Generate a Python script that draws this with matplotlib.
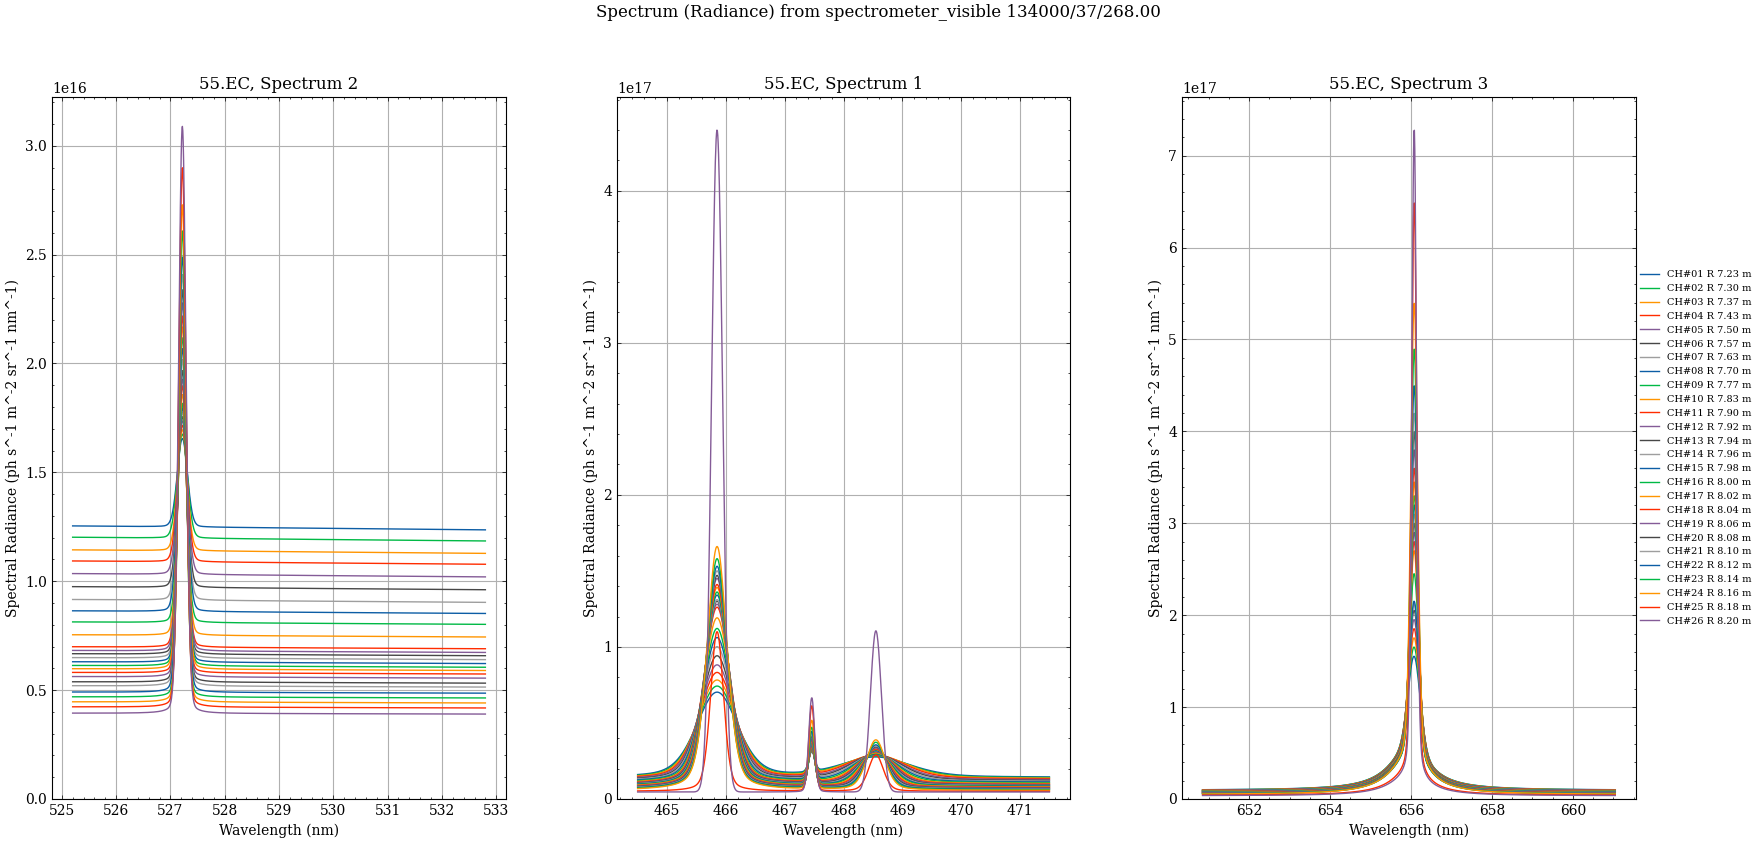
import numpy as np
import matplotlib.pyplot as plt

plt.rcParams.update({
    'font.family': 'serif',
    'font.serif': ['DejaVu Serif'],
    'font.size': 10,
    'axes.linewidth': 0.8,
    'axes.prop_cycle': plt.cycler(color=['#0C5DA5', '#00B945', '#FF9500', '#FF2C00',
                                         '#845B97', '#474747', '#9e9e9e']),
    'xtick.direction': 'in', 'ytick.direction': 'in',
    'xtick.top': True, 'ytick.right': True,
    'xtick.minor.visible': True, 'ytick.minor.visible': True,
    'xtick.major.size': 3, 'ytick.major.size': 3,
    'xtick.minor.size': 1.5, 'ytick.minor.size': 1.5,
    'xtick.major.width': 0.5, 'ytick.major.width': 0.5,
    'xtick.minor.width': 0.5, 'ytick.minor.width': 0.5,
    'lines.linewidth': 1.0,
    'axes.grid': True,
    'grid.color': '#b0b0b0',
    'grid.linewidth': 0.8,
})

##channel list (major radius of each line of sight)
channel = list(range(1, 27))
radius = [7.23, 7.30, 7.37, 7.43, 7.50, 7.57, 7.63, 7.70, 7.77, 7.83, 7.90, 7.92, 7.94,
          7.96, 7.98, 8.00, 8.02, 8.04, 8.06, 8.08, 8.10, 8.12, 8.14, 8.16, 8.18, 8.20]

##Spectrum 2 : single line at 527.2 nm, values in 1e16
s2_range = (525.2, 532.8)
s2_centre = 527.22
s2_base_lo = [1.254, 1.202, 1.144, 1.093, 1.035, 0.975, 0.916, 0.864, 0.813, 0.754, 0.699,
              0.682, 0.667, 0.649, 0.630, 0.613, 0.598, 0.581, 0.562, 0.538, 0.520, 0.491,
              0.469, 0.446, 0.423, 0.394]
s2_base_hi = [1.236, 1.185, 1.128, 1.078, 1.020, 0.961, 0.903, 0.852, 0.802, 0.744, 0.690,
              0.673, 0.658, 0.640, 0.622, 0.605, 0.590, 0.574, 0.555, 0.532, 0.514, 0.486,
              0.464, 0.441, 0.418, 0.390]
s2_peak = [1.66, 1.68, 1.70, 1.72, 1.74, 1.76, 1.78, 1.80, 1.82, 1.86, 1.90, 1.93, 1.97,
           2.02, 2.07, 2.12, 2.17, 2.22, 2.28, 2.34, 2.41, 2.49, 2.61, 2.73, 2.90, 3.09]
s2_fwhm = [0.22, 0.22, 0.21, 0.21, 0.21, 0.20, 0.20, 0.20, 0.19, 0.19, 0.19, 0.19, 0.18,
           0.18, 0.18, 0.18, 0.18, 0.17, 0.17, 0.17, 0.17, 0.17, 0.16, 0.16, 0.16, 0.16]

##Spectrum 1 : three lines around 465-469 nm, values in 1e17
s1_range = (464.5, 471.5)
s1_centre = [465.85, 467.46, 468.55]
s1_base = [0.142, 0.138, 0.134, 0.130, 0.125, 0.120, 0.115, 0.110, 0.105, 0.100, 0.096,
           0.093, 0.090, 0.087, 0.084, 0.081, 0.078, 0.075, 0.072, 0.069, 0.066, 0.063,
           0.060, 0.056, 0.050, 0.046]
s1_peak_a = [0.70, 0.74, 0.78, 0.83, 0.88, 0.94, 1.00, 1.06, 1.12, 1.19, 1.26, 1.28, 1.30,
             1.31, 1.34, 1.36, 1.39, 1.41, 1.45, 1.47, 1.50, 1.53, 1.58, 1.66, 1.10, 4.40]
s1_fwhm_a = [0.84, 0.80, 0.77, 0.73, 0.70, 0.66, 0.63, 0.60, 0.57, 0.55, 0.53, 0.52, 0.51,
             0.50, 0.49, 0.48, 0.47, 0.46, 0.45, 0.44, 0.43, 0.42, 0.41, 0.40, 0.26, 0.22]
s1_amp_b = [0.13, 0.14, 0.15, 0.16, 0.17, 0.18, 0.19, 0.20, 0.21, 0.22, 0.23, 0.24, 0.25,
            0.26, 0.27, 0.28, 0.29, 0.30, 0.31, 0.33, 0.35, 0.37, 0.40, 0.45, 0.56, 0.62]
s1_amp_c = [0.13, 0.14, 0.15, 0.155, 0.16, 0.17, 0.175, 0.18, 0.19, 0.20, 0.21, 0.215, 0.22,
            0.225, 0.23, 0.24, 0.245, 0.25, 0.26, 0.27, 0.28, 0.29, 0.31, 0.33, 0.24, 1.06]
s1_fwhm_c = [1.40, 1.32, 1.25, 1.18, 1.10, 1.03, 0.97, 0.91, 0.85, 0.80, 0.75, 0.72, 0.69,
             0.66, 0.63, 0.60, 0.57, 0.54, 0.51, 0.48, 0.45, 0.43, 0.40, 0.38, 0.30, 0.22]
s1_eta = [0.35] * 24 + [0.3, 0.0]

##Spectrum 3 : H-alpha, values in 1e17
s3_range = (650.85, 661.05)
s3_centre = 656.08
s3_wing_centre = 655.95
s3_base = [0.095, 0.093, 0.091, 0.089, 0.087, 0.085, 0.083, 0.081, 0.079, 0.077, 0.075,
           0.073, 0.071, 0.069, 0.067, 0.065, 0.063, 0.061, 0.059, 0.057, 0.055, 0.053,
           0.051, 0.049, 0.040, 0.035]
s3_peak = [1.55, 1.65, 1.75, 1.85, 1.95, 2.05, 2.12, 2.15, 2.45, 2.70, 2.80, 2.90, 3.00,
           3.10, 3.20, 3.30, 3.45, 3.60, 3.80, 4.00, 4.20, 4.50, 4.90, 5.40, 6.50, 7.30]
s3_wing = [0.42, 0.42, 0.41, 0.41, 0.40, 0.40, 0.39, 0.39, 0.38, 0.38, 0.37, 0.37, 0.37,
           0.36, 0.36, 0.36, 0.35, 0.35, 0.35, 0.35, 0.34, 0.34, 0.34, 0.34, 0.20, 0.18]
s3_fwhm = [0.36, 0.35, 0.34, 0.33, 0.32, 0.31, 0.30, 0.29, 0.28, 0.27, 0.26, 0.255, 0.25,
           0.245, 0.24, 0.235, 0.23, 0.225, 0.22, 0.215, 0.21, 0.205, 0.20, 0.20, 0.16, 0.14]


def line(wl, x0, fwhm, eta):
    ##pseudo-Voigt profile, 1 at the line centre
    u = 2.0 * (wl - x0) / fwhm
    return (1 - eta) * 2.0 ** (-u * u) + eta / (1 + u * u)


labels = ['CH#%02d R %.2f m' % (c, r) for c, r in zip(channel, radius)]
npix = 1024

fig = plt.figure(figsize=(17.57, 8.43), dpi=100)
ax1 = fig.add_axes([0.0296, 0.0522, 0.2584, 0.8327])
ax2 = fig.add_axes([0.3512, 0.0522, 0.2578, 0.8327])
ax3 = fig.add_axes([0.6727, 0.0522, 0.2584, 0.8327])
fig.suptitle('Spectrum (Radiance) from spectrometer_visible 134000/37/268.00',
             fontsize=12, y=0.995, va='top')

##Spectrum 2
wl = np.linspace(s2_range[0], s2_range[1], npix)
for i in range(len(channel)):
    base = s2_base_lo[i] + (s2_base_hi[i] - s2_base_lo[i]) * \
        (wl - s2_range[0]) / (s2_range[1] - s2_range[0])
    amp = s2_peak[i] - s2_base_lo[i]
    ax1.plot(wl, (base + amp * line(wl, s2_centre, s2_fwhm[i], 0.1)) * 1e16)

##Spectrum 1
wl = np.linspace(s1_range[0], s1_range[1], npix)
for i in range(len(channel)):
    y = s1_base[i] + (s1_peak_a[i] - s1_base[i]) * \
        line(wl, s1_centre[0], s1_fwhm_a[i], s1_eta[i])
    y = y + s1_amp_b[i] * line(wl, s1_centre[1], 0.12, 0.1)
    y = y + s1_amp_c[i] * line(wl, s1_centre[2], s1_fwhm_c[i], s1_eta[i])
    ax2.plot(wl, y * 1e17)

##Spectrum 3
wl = np.linspace(s3_range[0], s3_range[1], npix)
for i in range(len(channel)):
    amp = s3_peak[i] - s3_base[i] - 0.95 * s3_wing[i]
    y = s3_base[i] + s3_wing[i] * line(wl, s3_wing_centre, 1.2, 1.0) + \
        amp * line(wl, s3_centre, s3_fwhm[i], 0.3)
    ax3.plot(wl, y * 1e17, label=labels[i])

for ax, title in zip([ax1, ax2, ax3], ['55.EC, Spectrum 2', '55.EC, Spectrum 1',
                                       '55.EC, Spectrum 3']):
    ax.set_title(title, fontsize=12)
    ax.set_xlabel('Wavelength (nm)')
    ax.set_ylabel('Spectral Radiance (ph s^-1 m^-2 sr^-1 nm^-1)')
    ax.set_ylim(bottom=0)

ax3.legend(loc='center left', bbox_to_anchor=(1.0, 0.5), frameon=False,
           fontsize=7, borderaxespad=0.0)

fig.savefig('out.png', dpi=100)
